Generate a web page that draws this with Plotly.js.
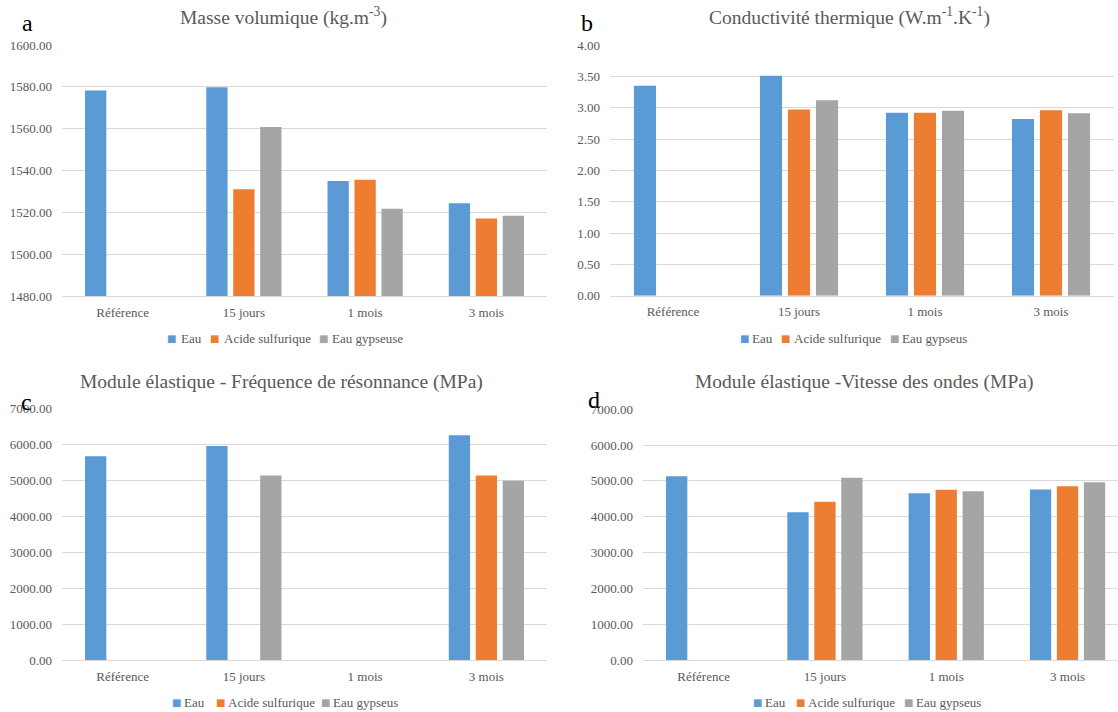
<!DOCTYPE html>
<html>
<head>
<meta charset="utf-8">
<script src="https://cdn.plot.ly/plotly-3.0.1.min.js"></script>
<style>
  html, body { margin: 0; padding: 0; background: #ffffff; }
  #chart { width: 1118px; height: 712px; }
</style>
</head>
<body>
<div id="chart"></div>
<script>
// ---------- DATA ----------
const categories = ['Référence', '15 jours', '1 mois', '3 mois'];
const seriesNamesA = ['Eau', 'Acide sulfurique', 'Eau gypseuse'];
const seriesNamesBCD = ['Eau', 'Acide sulfurique', 'Eau gypseus'];
const seriesColors = ['#5B9BD5', '#ED7D31', '#A5A5A5'];

// a - Masse volumique (kg.m-3)
const masseEau    = [1578.2, 1579.8, 1535.0, 1524.3];
const masseAcide  = [null,   1531.0, 1535.6, 1517.1];
const masseGyps   = [null,   1560.8, 1521.7, 1518.4];

// b - Conductivité thermique (W.m-1.K-1)
const condEau     = [3.35, 3.51, 2.92, 2.82];
const condAcide   = [null, 2.97, 2.92, 2.96];
const condGyps    = [null, 3.12, 2.95, 2.91];

// c - Module élastique - Fréquence de résonnance (MPa)
const freqEau     = [5670, 5950, null, 6250];
const freqAcide   = [null, null, null, 5130];
const freqGyps    = [null, 5130, null, 4990];

// d - Module élastique - Vitesse des ondes (MPa)
const vitEau      = [5130, 4125, 4655, 4760];
const vitAcide    = [null, 4420, 4755, 4850];
const vitGyps     = [null, 5090, 4710, 4965];

const titles = [
  'Masse volumique (kg.m<sup>-3</sup>)',
  'Conductivité thermique (W.m<sup>-1</sup>.K<sup>-1</sup>)',
  'Module élastique - Fréquence de résonnance (MPa)',
  'Module élastique -Vitesse des ondes (MPa)'
];
const panelLetters = ['a', 'b', 'c', 'd'];

// ---------- LAYOUT HELPERS ----------
const W = 1118, H = 712;
const px = x => x / W;
const py = y => 1 - y / H;
const FONT = 'Liberation Serif';
const GREY = '#595959';

const panels = [
  {ax: '', series: [masseEau, masseAcide, masseGyps], names: seriesNamesA},
  {ax: '2', series: [condEau, condAcide, condGyps], names: seriesNamesBCD},
  {ax: '3', series: [freqEau, freqAcide, freqGyps], names: seriesNamesBCD},
  {ax: '4', series: [vitEau, vitAcide, vitGyps], names: seriesNamesBCD}
];

const traces = [];
panels.forEach(p => {
  p.series.forEach((vals, i) => {
    traces.push({
      type: 'bar',
      x: categories,
      y: vals,
      name: p.names[i],
      xaxis: 'x' + p.ax,
      yaxis: 'y' + p.ax,
      marker: {color: seriesColors[i], line: {width: 0}},
      showlegend: false,
      hoverinfo: 'skip'
    });
  });
});

function xAxis(domain, anchor, range) {
  const a = {
    domain: domain, anchor: anchor, type: 'category',
    showgrid: false, zeroline: false,
    showline: true, linecolor: '#D9D9D9', linewidth: 1,
    ticks: '', ticklabelstandoff: 4,
    tickfont: {family: FONT, size: 13, color: GREY},
    fixedrange: true
  };
  if (range) { a.range = range; a.autorange = false; }
  return a;
}
function yAxis(domain, anchor, range, dtick) {
  return {
    domain: domain, anchor: anchor, range: range, autorange: false,
    dtick: dtick, tick0: range[0], tickformat: '.2f',
    showgrid: true, gridcolor: '#D9D9D9', gridwidth: 1,
    zeroline: false, showline: false, ticks: '', ticklabelstandoff: 9,
    tickfont: {family: FONT, size: 13, color: GREY},
    fixedrange: true
  };
}

const annotations = [];
// Titles
const titlePos = [[283, 17], [849, 17], [281, 382], [864, 382]];
titles.forEach((t, i) => {
  annotations.push({
    xref: 'paper', yref: 'paper', x: px(titlePos[i][0]), y: py(titlePos[i][1]),
    xanchor: 'center', yanchor: 'middle', showarrow: false,
    text: t, font: {family: FONT, size: 19.5, color: GREY}
  });
});
// Panel letters
const letterPos = [[27, 23], [587, 23], [26, 402], [594, 400]];
panelLetters.forEach((l, i) => {
  annotations.push({
    xref: 'paper', yref: 'paper', x: px(letterPos[i][0]), y: py(letterPos[i][1]),
    xanchor: 'center', yanchor: 'middle', showarrow: false,
    text: l, font: {family: FONT, size: 24, color: '#000000'}
  });
});
// Legends (marker x, text x) per panel
const legendPos = [
  {y: 338, items: [[171, 179], [214, 222], [323, 330]]},
  {y: 338, items: [[744, 750], [785, 792], [894, 900]]},
  {y: 702, items: [[176, 182], [220, 226], [325, 331]]},
  {y: 702, items: [[757, 763], [800, 806], [908, 914]]}
];
legendPos.forEach((lg, pi) => {
  lg.items.forEach((it, i) => {
    annotations.push({
      xref: 'paper', yref: 'paper', x: px(it[0]), y: py(lg.y),
      xanchor: 'center', yanchor: 'middle', showarrow: false,
      text: '■', font: {family: 'DejaVu Sans', size: 10, color: seriesColors[i]}
    });
    annotations.push({
      xref: 'paper', yref: 'paper', x: px(it[1]), y: py(lg.y),
      xanchor: 'left', yanchor: 'middle', showarrow: false,
      text: panels[pi].names[i], font: {family: FONT, size: 13, color: GREY}
    });
  });
});

const layout = {
  width: W, height: H,
  margin: {l: 0, r: 0, t: 0, b: 0, pad: 0},
  paper_bgcolor: '#ffffff', plot_bgcolor: '#ffffff',
  font: {family: FONT, color: GREY},
  barmode: 'group', bargap: 0.333, bargroupgap: 0.21,
  showlegend: false,
  xaxis:  xAxis([px(62), px(547)], 'y'),
  yaxis:  yAxis([py(296), py(45)], 'x', [1480, 1600], 20),
  xaxis2: xAxis([px(610), px(1114)], 'y2'),
  yaxis2: yAxis([py(295.7), py(45)], 'x2', [0, 4], 0.5),
  xaxis3: xAxis([px(62), px(547)], 'y3'),
  yaxis3: yAxis([py(660.3), py(408.3)], 'x3', [0, 7000], 1000),
  xaxis4: xAxis([px(643), 1], 'y4', [-0.5, 3.416]),
  yaxis4: yAxis([py(660), py(409.3)], 'x4', [0, 7000], 1000),
  annotations: annotations
};

Plotly.newPlot('chart', traces, layout, {staticPlot: true, displayModeBar: false});
</script>
</body>
</html>
